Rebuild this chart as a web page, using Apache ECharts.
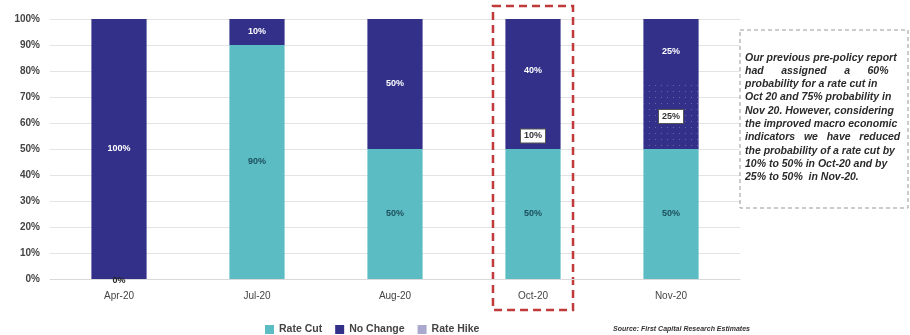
<!DOCTYPE html>
<html>
<head>
<meta charset="utf-8">
<script src="https://cdn.jsdelivr.net/npm/echarts@6/dist/echarts.min.js"></script>
<style>
  html, body { margin: 0; padding: 0; background: #fff; }
  #chart { width: 910px; height: 335px; }
</style>
</head>
<body>
<div id="chart"></div>
<script>
// values
const months = ["Apr-20", "Jul-20", "Aug-20", "Oct-20", "Nov-20"];
const rateCut = [0, 90, 50, 50, 50];
const reduced = [0, 0, 0, 10, 25]; // cut probability taken off since last report
const noChange = [100, 10, 50, 40, 25];
const rateHike = [0, 0, 0, 0, 0];
const yTicks = [0, 10, 20, 30, 40, 50, 60, 70, 80, 90, 100];

const noteLines = [
  "Our previous pre-policy report",
  "had      assigned      a      60%",
  "probability for a rate cut in",
  "Oct 20 and 75% probability in",
  "Nov 20. However, considering",
  "the improved macro economic",
  "indicators   we   have   reduced",
  "the probability of a rate cut by",
  "10% to 50% in Oct-20 and by",
  "25% to 50%  in Nov-20."
];

const CUT = "#5bbcc4";
const NAVY = "#33308a";
const HIKE = "#a9a9cf";

let myChart = echarts.init(document.getElementById("chart"));

const hideZero = (p) => (p.value ? p.value + "%" : "");

myChart.setOption({
  animation: false,
  textStyle: { fontFamily: "Liberation Sans" },
  grid: { left: 50, right: 170, top: 19, bottom: 56 },
  legend: {
    data: ["Rate Cut", "No Change", "Rate Hike"],
    left: 260,
    top: 319,
    itemWidth: 9,
    itemHeight: 9,
    itemGap: 13,
    icon: "rect",
    textStyle: { fontSize: 10.5, fontWeight: "bold", color: "#444" },
  },
  xAxis: {
    type: "category",
    data: months,
    axisLine: { lineStyle: { color: "#d9d9d9" } },
    axisTick: { show: false },
    axisLabel: { fontSize: 10, color: "#444", margin: 12 },
  },
  yAxis: {
    type: "value",
    min: 0,
    max: 100,
    interval: 10,
    axisLabel: {
      fontSize: 10,
      fontWeight: "bold",
      color: "#444",
      margin: 10,
      formatter: (v) => (yTicks.includes(v) ? v + "%" : ""),
    },
    splitLine: { lineStyle: { color: "#e4e4e4" } },
  },
  series: [
    {
      name: "Rate Cut",
      type: "bar",
      stack: "p",
      barWidth: "40%",
      data: rateCut.map((v) =>
        v === 0
          ? { value: v, label: { position: "bottom", distance: -3, color: "#222" } }
          : v
      ),
      itemStyle: { color: CUT },
      label: {
        show: true,
        position: "inside",
        formatter: (p) => p.value + "%",
        fontSize: 9,
        fontWeight: "bold",
        color: "#1d4f5c",
      },
    },
    {
      name: "Reduced",
      type: "bar",
      stack: "p",
      data: reduced.map((v, i) => {
        const item = { value: v, label: { show: v > 0 } };
        if (i === 4) {
          item.itemStyle = {
            decal: {
              symbol: "circle",
              symbolSize: 0.4,
              color: "rgba(255,255,255,0.3)",
              dashArrayX: [[3, 3]],
              dashArrayY: [3, 3],
            },
          };
        }
        return item;
      }),
      itemStyle: { color: NAVY },
      label: {
        position: "inside",
        formatter: hideZero,
        fontSize: 9,
        fontWeight: "bold",
        color: "#333",
        backgroundColor: "#fff",
        borderColor: "#555",
        borderWidth: 1,
        padding: [2, 3],
      },
    },
    {
      name: "No Change",
      type: "bar",
      stack: "p",
      data: noChange,
      itemStyle: { color: NAVY },
      label: {
        show: true,
        position: "inside",
        formatter: hideZero,
        fontSize: 9,
        fontWeight: "bold",
        color: "#fff",
      },
    },
    {
      name: "Rate Hike",
      type: "bar",
      stack: "p",
      data: rateHike,
      itemStyle: { color: HIKE },
    },
  ],
});

// red dashed frame around Oct-20 and the note box
const octX = myChart.convertToPixel({ xAxisIndex: 0 }, "Oct-20");
const band = myChart.convertToPixel({ xAxisIndex: 0 }, "Nov-20") - octX;
const half = band * 0.29;

myChart.setOption({
  graphic: [
    {
      type: "rect",
      shape: { x: octX - half, y: 6, width: half * 2, height: 304 },
      style: { fill: "none", stroke: "#c0393b", lineWidth: 2.5, lineDash: [8, 5] },
    },
    {
      type: "rect",
      shape: { x: 740, y: 30, width: 168, height: 178 },
      style: { fill: "#fff", stroke: "#999", lineWidth: 1, lineDash: [4, 3] },
    },
    {
      type: "text",
      left: 745,
      top: 51,
      style: {
        text: noteLines.join("\n"),
        font: "italic bold 10.5px 'Liberation Sans'",
        fill: "#2a2a2a",
        lineHeight: 13.3,
      },
    },
    {
      type: "text",
      left: 613,
      top: 326,
      style: {
        text: "Source: First Capital Research Estimates",
        font: "italic bold 7px 'Liberation Sans'",
        fill: "#333",
      },
    },
  ],
});
</script>
</body>
</html>
